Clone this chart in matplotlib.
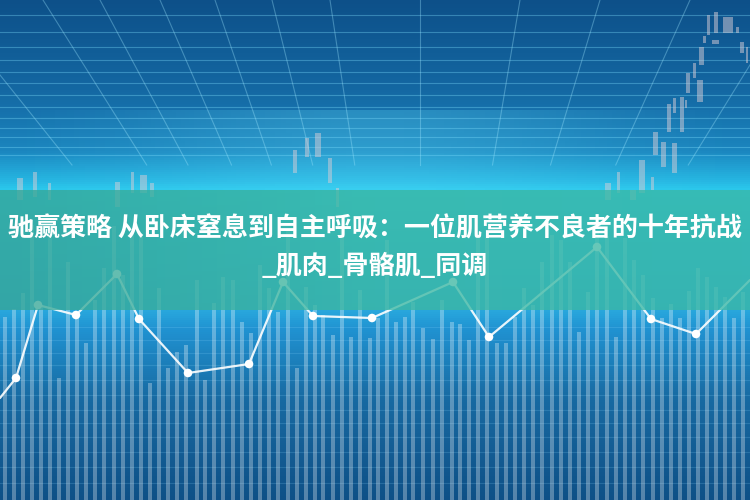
import numpy as np
import matplotlib
matplotlib.use("Agg")
import matplotlib.pyplot as plt
from matplotlib.colors import LinearSegmentedColormap
from matplotlib.patches import Rectangle

# ---------------- data (pixel space) ----------------
title_line1 = "驰赢策略 从卧床窒息到自主呼吸：一位肌营养不良者的十年抗战"
title_line2 = "_肌肉_骨骼肌_同调"

line_x = [0, 16, 38, 76, 117, 139, 188, 249, 283, 313, 372, 453, 489, 597, 651, 696, 750]
line_y = [398, 378, 305, 315, 274, 319, 373, 364, 282, 316, 318, 282, 337, 247, 319, 334, 280]
marker_x = [16, 38, 76, 117, 139, 188, 249, 283, 313, 372, 453, 489, 597, 651, 696]
marker_y = [378, 305, 315, 274, 319, 373, 364, 282, 316, 318, 282, 337, 247, 319, 334]

bar_x = [5, 14, 23, 32, 41, 50, 59, 68, 77, 86, 95, 104, 114, 123, 132, 141, 150, 159, 168, 177, 186,
         197, 205, 214, 223, 233, 242, 251, 260, 269, 278, 288, 297, 306, 315, 323, 333, 342, 351, 360, 370, 378,
         387, 396, 405, 413, 423, 433, 442, 452, 460, 469, 478, 487, 497, 506, 515, 524, 533, 542, 552, 561,
         570, 579, 588, 597, 607, 616, 625, 634, 643, 653, 662, 671, 680, 689, 698, 707, 716, 725, 734, 743]
bar_top = [317, 309, 293, 225, 305, 228, 378, 262, 317, 343, 300, 268, 226, 275, 232, 236, 383, 288, 368, 352, 345,
           280, 380, 303, 277, 280, 322, 333, 265, 288, 312, 230, 368, 287, 305, 315, 335, 228, 337, 290, 338, 318,
           240, 322, 317, 302, 328, 339, 300, 322, 324, 340, 232, 238, 343, 343, 317, 288, 305, 262, 235, 240,
           262, 332, 292, 232, 236, 337, 238, 260, 275, 298, 318, 304, 318, 291, 268, 277, 287, 297, 318, 292]

candle_x = [708, 716, 728, 737, 704, 715, 742, 747, 701, 694, 688, 700, 682, 674, 669, 686, 655, 663, 674,
            642, 652, 618, 608, 633,
            20, 35, 49, 117, 132, 143, 152, 295, 307, 318, 330, 337]
candle_top = [15, 12, 17, 27, 36, 40, 42, 47, 47, 63, 73, 80, 97, 98, 104, 100, 132, 142, 143,
              160, 177, 172, 183, 190,
              178, 172, 183, 182, 172, 175, 183, 150, 138, 133, 158, 188]
candle_bot = [35, 33, 33, 33, 43, 44, 53, 63, 65, 78, 93, 102, 132, 113, 132, 108, 155, 167, 173,
              193, 190, 193, 200, 200,
              200, 197, 200, 207, 193, 193, 197, 173, 157, 157, 183, 207]
candle_w = [3, 4, 10, 3, 3, 7, 4, 2, 5, 3, 4, 6, 4, 3, 4, 2, 5, 5, 5,
            6, 3, 3, 6, 6,
            6, 4, 3, 5, 3, 7, 4, 4, 4, 6, 4, 3]

top_grid_y = [15, 32, 47, 60, 72, 83, 95, 107, 118, 128, 137, 147, 155]
top_diag_x0 = [-300, -180, -60, 43, 100, 160, 215, 272, 330, 420, 520, 600, 690, 790, 900]
bottom_grid_y = [327, 340, 353, 365, 380, 395, 410, 423, 437, 452, 467, 483]

# ---------------- figure ----------------
W, H = 750, 500
fig = plt.figure(figsize=(7.5, 5), dpi=100)
ax = fig.add_axes([0, 0, 1, 1])
ax.set_xlim(0, W)
ax.set_ylim(H, 0)
ax.axis("off")

# background vertical gradient
stops = [(0.0, "#0d5089"), (0.18, "#1468a3"), (0.30, "#1b86bf"), (0.36, "#26b6e2"),
         (0.38, "#2ccbee"), (0.62, "#29a9de"), (0.66, "#2092d1"), (0.80, "#176aa2"), (1.0, "#0e5087")]
cmap = LinearSegmentedColormap.from_list("bg", stops)
grad = np.linspace(0, 1, 500).reshape(-1, 1)
grad = np.repeat(grad, 2, axis=1)
ax.imshow(grad, cmap=cmap, extent=[0, W, H, 0], aspect="auto", zorder=0)

# horizontal glow around horizon (lighter centre)
xs = np.linspace(-1, 1, 300)
glow = np.exp(-(xs ** 2) / 0.5).reshape(1, -1)
ax.imshow(glow, cmap=LinearSegmentedColormap.from_list("g", [(0, (0.4, 0.9, 1, 0)), (1, (0.4, 0.9, 1, 0.25))]),
          extent=[0, W, 190, 110], aspect="auto", zorder=0.5)

# perspective grid at top
for gy in top_grid_y:
    ax.plot([0, W], [gy, gy], color="#7fe0ff", alpha=0.35, lw=0.8, zorder=1)
vp = (420, 600)
for x0 in top_diag_x0:
    t = 165 / vp[1]
    x1 = x0 + (vp[0] - x0) * t
    ax.plot([x0, x1], [0, 165], color="#9fe8ff", alpha=0.35, lw=0.8, zorder=1)

# bottom grid
for gy in bottom_grid_y:
    ax.plot([0, W], [gy, gy], color="#8fd8ff", alpha=0.18, lw=0.8, zorder=1)

# candlesticks
for cx, ct, cb, cw in zip(candle_x, candle_top, candle_bot, candle_w):
    ax.add_patch(Rectangle((cx - cw / 2, ct), cw, cb - ct, facecolor="#d8cdd6", alpha=0.5,
                           edgecolor="none", zorder=2))

# bars
for bx, bt in zip(bar_x, bar_top):
    ax.add_patch(Rectangle((bx - 2, bt), 4, H - bt, facecolor="white", alpha=0.3,
                           edgecolor="none", zorder=2))

# line with markers
ax.plot(line_x, line_y, color="white", lw=1.6, alpha=0.9, zorder=3, solid_capstyle="round")
ax.scatter(marker_x, marker_y, s=38, color="white", zorder=4, edgecolors="none")

# teal band
band = LinearSegmentedColormap.from_list("band", ["#36a596", "#3db8a2", "#3ab7a6"])
ax.imshow(np.linspace(0, 1, 100).reshape(1, -1), cmap=band, extent=[0, W, 310, 190],
          aspect="auto", alpha=0.78, zorder=5)

# title text
plt.rcParams["font.family"] = ["Noto Sans CJK SC", "DejaVu Sans"]
fam = ["Noto Sans CJK SC", "DejaVu Sans"]
ax.text(375, 229, title_line1, ha="center", va="center", color="white", fontsize=18.75,
        fontweight="bold", family=fam, zorder=6)
ax.text(375, 266, title_line2, ha="center", va="center", color="white", fontsize=18.75,
        fontweight="bold", family=fam, zorder=6)

fig.savefig("out.png", dpi=100)
